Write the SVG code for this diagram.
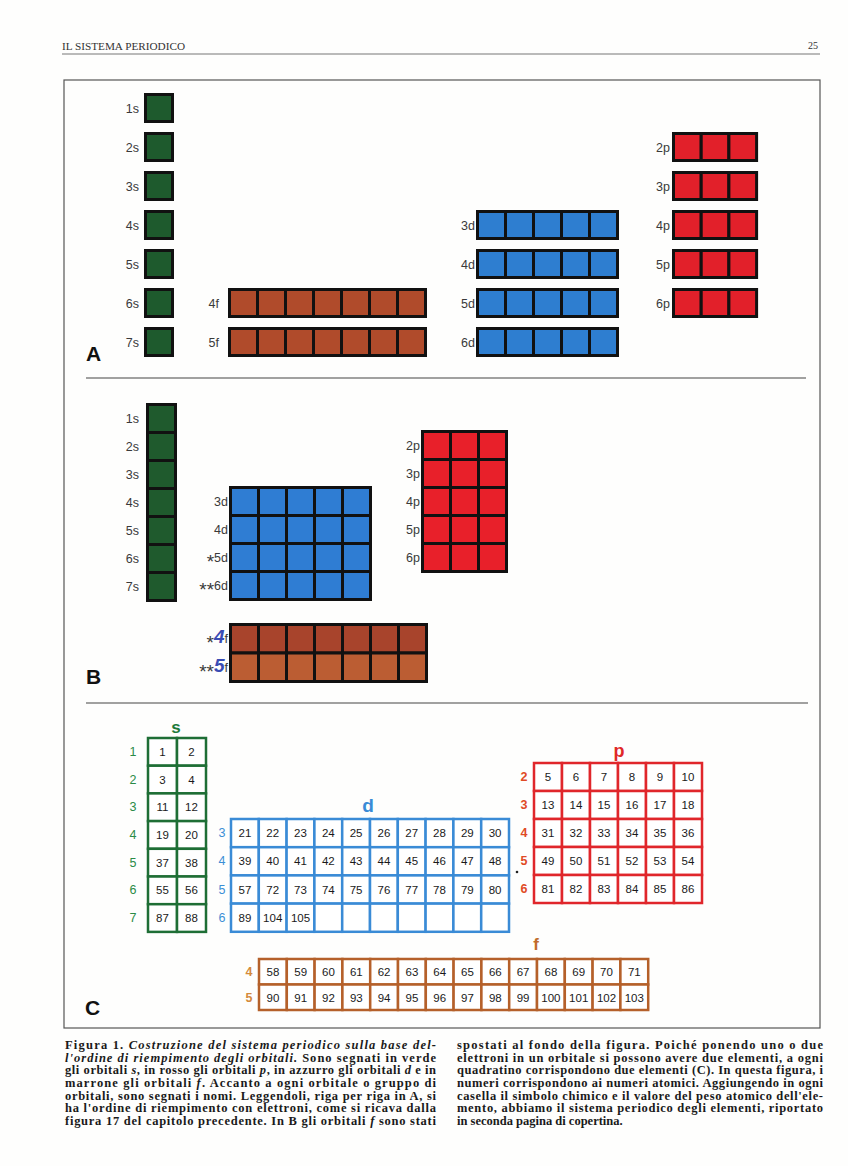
<svg xmlns="http://www.w3.org/2000/svg" xmlns:xlink="http://www.w3.org/1999/xlink" width="848" height="1166" viewBox="0 0 848 1166">
<style>
.lbl{font-family:"Liberation Sans",Arial,sans-serif;font-size:12.5px;fill:#3a3a3a;text-anchor:end}
.ast{font-size:19px}
.big{font-family:"Liberation Sans",Arial,sans-serif;font-size:21px;font-weight:900;fill:#111}
.num{font-family:"Liberation Sans",Arial,sans-serif;font-size:11.5px;fill:#1a1a1a;text-anchor:middle}
.rl{font-family:"Liberation Sans",Arial,sans-serif;font-size:12.5px;text-anchor:middle}
.hd{font-family:"Liberation Sans",Arial,sans-serif;font-weight:bold;text-anchor:middle}
.k{stroke:#111;stroke-width:3}
.cap{font-family:"Liberation Serif","Times New Roman",serif;font-size:12.5px;font-weight:bold;fill:#1a1a1a}
.it{font-style:italic}
.frame{fill:none;stroke:#555;stroke-width:1.2}
</style>
<defs>
<g id="a1"><rect x="0" y="0" width="27" height="27"/></g>
<g id="a7"><rect x="0" width="28" height="27"/><rect x="28" width="28" height="27"/><rect x="56" width="28" height="27"/><rect x="84" width="28" height="27"/><rect x="112" width="28" height="27"/><rect x="140" width="28" height="27"/><rect x="168" width="28" height="27"/></g>
<g id="a5"><rect x="0" width="28" height="27"/><rect x="28" width="28" height="27"/><rect x="56" width="28" height="27"/><rect x="84" width="28" height="27"/><rect x="112" width="28" height="27"/></g>
<g id="a3"><rect x="0" width="27.7" height="27"/><rect x="27.7" width="27.7" height="27"/><rect x="55.4" width="27.7" height="27"/></g>
<g id="b1"><rect x="0" width="28" height="28"/></g>
<g id="b3"><rect x="0" width="28" height="28"/><rect x="28" width="28" height="28"/><rect x="56" width="28" height="28"/></g>
<g id="b5"><rect x="0" width="28" height="28"/><rect x="28" width="28" height="28"/><rect x="56" width="28" height="28"/><rect x="84" width="28" height="28"/><rect x="112" width="28" height="28"/></g>
<g id="b7"><rect x="0" width="28" height="28.5"/><rect x="28" width="28" height="28.5"/><rect x="56" width="28" height="28.5"/><rect x="84" width="28" height="28.5"/><rect x="112" width="28" height="28.5"/><rect x="140" width="28" height="28.5"/><rect x="168" width="28" height="28.5"/></g>
<g id="c2"><rect x="0" width="29" height="27.7"/><rect x="29" width="29" height="27.7"/></g>
<g id="c10"><rect x="0" width="27.8" height="28.2"/><rect x="27.8" width="27.8" height="28.2"/><rect x="55.6" width="27.8" height="28.2"/><rect x="83.4" width="27.8" height="28.2"/><rect x="111.2" width="27.8" height="28.2"/><rect x="139" width="27.8" height="28.2"/><rect x="166.8" width="27.8" height="28.2"/><rect x="194.6" width="27.8" height="28.2"/><rect x="222.4" width="27.8" height="28.2"/><rect x="250.2" width="27.8" height="28.2"/></g>
<g id="c6"><rect x="0" width="28" height="28"/><rect x="28" width="28" height="28"/><rect x="56" width="28" height="28"/><rect x="84" width="28" height="28"/><rect x="112" width="28" height="28"/><rect x="140" width="28" height="28"/></g>
<g id="c14"><rect x="0" width="27.8" height="25.5"/><rect x="27.8" width="27.8" height="25.5"/><rect x="55.6" width="27.8" height="25.5"/><rect x="83.4" width="27.8" height="25.5"/><rect x="111.2" width="27.8" height="25.5"/><rect x="139" width="27.8" height="25.5"/><rect x="166.8" width="27.8" height="25.5"/><rect x="194.6" width="27.8" height="25.5"/><rect x="222.4" width="27.8" height="25.5"/><rect x="250.2" width="27.8" height="25.5"/><rect x="278" width="27.8" height="25.5"/><rect x="305.8" width="27.8" height="25.5"/><rect x="333.6" width="27.8" height="25.5"/><rect x="361.4" width="27.8" height="25.5"/></g>
</defs>
<rect x="0" y="0" width="848" height="1166" fill="#fefefd"/>

<g id="header">
<text x="62" y="50" font-family="Liberation Serif, serif" font-size="9.5" fill="#333" textLength="123" lengthAdjust="spacingAndGlyphs">IL SISTEMA PERIODICO</text>
<text x="818" y="49" font-family="Liberation Serif, serif" font-size="10" fill="#333" text-anchor="end">25</text>
<line x1="62" y1="54" x2="820" y2="54" stroke="#777" stroke-width="1"/>
</g>

<g id="frame">
<rect class="frame" x="64" y="80" width="756" height="948"/>
<line x1="86" y1="378" x2="806" y2="378" stroke="#444" stroke-width="1.2"/>
<line x1="86" y1="703" x2="808" y2="703" stroke="#444" stroke-width="1.2"/>
</g>

<!-- PANEL A -->
<g id="panelA">
<text class="big" x="86" y="361">A</text>
<g id="A-s" class="k" fill="#1e5a2d">
<use xlink:href="#a1" x="145.5" y="94.5"/><use xlink:href="#a1" x="145.5" y="133.5"/><use xlink:href="#a1" x="145.5" y="172.5"/><use xlink:href="#a1" x="145.5" y="211.5"/><use xlink:href="#a1" x="145.5" y="250.5"/><use xlink:href="#a1" x="145.5" y="289.5"/><use xlink:href="#a1" x="145.5" y="328.5"/>
</g>
<g class="lbl"><text x="139" y="113">1s</text><text x="139" y="152">2s</text><text x="139" y="191">3s</text><text x="139" y="230">4s</text><text x="139" y="269">5s</text><text x="139" y="308">6s</text><text x="139" y="347">7s</text></g>
<g id="A-f" class="k" fill="#b04b2b">
<use xlink:href="#a7" x="229.5" y="289.5"/><use xlink:href="#a7" x="229.5" y="328.5"/>
</g>
<g class="lbl"><text x="219" y="308">4f</text><text x="219" y="347">5f</text></g>
<g id="A-d" class="k" fill="#2e7ed0">
<use xlink:href="#a5" x="477.5" y="211.5"/><use xlink:href="#a5" x="477.5" y="250.5"/><use xlink:href="#a5" x="477.5" y="289.5"/><use xlink:href="#a5" x="477.5" y="328.5"/>
</g>
<g class="lbl"><text x="475" y="230">3d</text><text x="475" y="269">4d</text><text x="475" y="308">5d</text><text x="475" y="347">6d</text></g>
<g id="A-p" class="k" fill="#e2202a">
<use xlink:href="#a3" x="673.5" y="133.5"/><use xlink:href="#a3" x="673.5" y="172.5"/><use xlink:href="#a3" x="673.5" y="211.5"/><use xlink:href="#a3" x="673.5" y="250.5"/><use xlink:href="#a3" x="673.5" y="289.5"/>
</g>
<g class="lbl"><text x="670" y="152">2p</text><text x="670" y="191">3p</text><text x="670" y="230">4p</text><text x="670" y="269">5p</text><text x="670" y="308">6p</text></g>
</g>

<!-- PANEL B -->
<g id="panelB">
<text class="big" x="86" y="684">B</text>
<g id="B-s" class="k" fill="#1f5a2d">
<use xlink:href="#b1" x="147.5" y="404.5"/><use xlink:href="#b1" x="147.5" y="432.5"/><use xlink:href="#b1" x="147.5" y="460.5"/><use xlink:href="#b1" x="147.5" y="488.5"/><use xlink:href="#b1" x="147.5" y="516.5"/><use xlink:href="#b1" x="147.5" y="544.5"/><use xlink:href="#b1" x="147.5" y="572.5"/>
</g>
<g class="lbl"><text x="139" y="423">1s</text><text x="139" y="451">2s</text><text x="139" y="479">3s</text><text x="139" y="507">4s</text><text x="139" y="535">5s</text><text x="139" y="563">6s</text><text x="139" y="591">7s</text></g>
<g id="B-d" class="k" fill="#2f7dd3">
<use xlink:href="#b5" x="230.5" y="487.5"/><use xlink:href="#b5" x="230.5" y="515.5"/><use xlink:href="#b5" x="230.5" y="543.5"/><use xlink:href="#b5" x="230.5" y="571.5"/>
</g>
<g class="lbl"><text x="228" y="506">3d</text><text x="228" y="534">4d</text><text x="228" y="562"><tspan class="ast" dy="6">*</tspan><tspan dy="-6">5d</tspan></text><text x="228" y="590"><tspan class="ast" dy="6">**</tspan><tspan dy="-6">6d</tspan></text></g>
<g id="B-p" class="k" fill="#e8202a">
<use xlink:href="#b3" x="422.5" y="431.5"/><use xlink:href="#b3" x="422.5" y="459.5"/><use xlink:href="#b3" x="422.5" y="487.5"/><use xlink:href="#b3" x="422.5" y="515.5"/><use xlink:href="#b3" x="422.5" y="543.5"/>
</g>
<g class="lbl"><text x="420" y="450">2p</text><text x="420" y="478">3p</text><text x="420" y="506">4p</text><text x="420" y="534">5p</text><text x="420" y="562">6p</text></g>
<g id="B-f" class="k">
<use xlink:href="#b7" x="230.5" y="624.5" fill="#a8442c"/><use xlink:href="#b7" x="230.5" y="653" fill="#bb5d33"/>
</g>
<g class="lbl"><text x="228" y="643"><tspan class="ast" dy="6">*</tspan><tspan dy="-6" fill="#3a4cb4" font-style="italic" font-weight="bold" font-size="19">4</tspan>f</text><text x="228" y="672"><tspan class="ast" dy="6">**</tspan><tspan dy="-6" fill="#3a4cb4" font-style="italic" font-weight="bold" font-size="19">5</tspan>f</text></g>
</g>

<!-- PANEL C -->
<g id="panelC">
<text class="big" x="85" y="1015">C</text>

<g id="C-s">
<text class="hd" x="176" y="733" font-size="17" fill="#1d7a3a">s</text>
<g fill="#fff" stroke="#1e6e35" stroke-width="2.5">
<use xlink:href="#c2" x="148" y="738"/><use xlink:href="#c2" x="148" y="765.7"/><use xlink:href="#c2" x="148" y="793.4"/><use xlink:href="#c2" x="148" y="821.1"/><use xlink:href="#c2" x="148" y="848.8"/><use xlink:href="#c2" x="148" y="876.5"/><use xlink:href="#c2" x="148" y="904.2"/>
</g>
<g class="rl" fill="#2a8b46"><text x="133" y="756">1</text><text x="133" y="783.6">2</text><text x="133" y="811.3">3</text><text x="133" y="839">4</text><text x="133" y="866.7">5</text><text x="133" y="894.4">6</text><text x="133" y="922.1">7</text></g>
<g class="num">
<text x="162.5" y="756">1</text><text x="191.5" y="756">2</text>
<text x="162.5" y="783.6">3</text><text x="191.5" y="783.6">4</text>
<text x="162.5" y="811.3">11</text><text x="191.5" y="811.3">12</text>
<text x="162.5" y="839">19</text><text x="191.5" y="839">20</text>
<text x="162.5" y="866.7">37</text><text x="191.5" y="866.7">38</text>
<text x="162.5" y="894.4">55</text><text x="191.5" y="894.4">56</text>
<text x="162.5" y="922.1">87</text><text x="191.5" y="922.1">88</text>
</g>
</g>

<g id="C-d">
<text class="hd" x="368" y="812" font-size="19" fill="#3a8bd6">d</text>
<g fill="#fff" stroke="#3a8bd6" stroke-width="2.5">
<use xlink:href="#c10" x="231" y="819"/><use xlink:href="#c10" x="231" y="847.2"/><use xlink:href="#c10" x="231" y="875.4"/><use xlink:href="#c10" x="231" y="903.6"/>
</g>
<g class="rl" fill="#3b8fd6"><text x="222" y="837.1">3</text><text x="222" y="865.3">4</text><text x="222" y="893.5">5</text><text x="222" y="921.7">6</text></g>
<g class="num">
<text x="244.9" y="837.1">21</text><text x="272.7" y="837.1">22</text><text x="300.5" y="837.1">23</text><text x="328.3" y="837.1">24</text><text x="356.1" y="837.1">25</text><text x="383.9" y="837.1">26</text><text x="411.7" y="837.1">27</text><text x="439.5" y="837.1">28</text><text x="467.3" y="837.1">29</text><text x="495.1" y="837.1">30</text>
<text x="244.9" y="865.3">39</text><text x="272.7" y="865.3">40</text><text x="300.5" y="865.3">41</text><text x="328.3" y="865.3">42</text><text x="356.1" y="865.3">43</text><text x="383.9" y="865.3">44</text><text x="411.7" y="865.3">45</text><text x="439.5" y="865.3">46</text><text x="467.3" y="865.3">47</text><text x="495.1" y="865.3">48</text>
<text x="244.9" y="893.5">57</text><text x="272.7" y="893.5">72</text><text x="300.5" y="893.5">73</text><text x="328.3" y="893.5">74</text><text x="356.1" y="893.5">75</text><text x="383.9" y="893.5">76</text><text x="411.7" y="893.5">77</text><text x="439.5" y="893.5">78</text><text x="467.3" y="893.5">79</text><text x="495.1" y="893.5">80</text>
<text x="244.9" y="921.7">89</text><text x="272.7" y="921.7">104</text><text x="300.5" y="921.7">105</text>
</g>
</g>
<circle cx="517" cy="872" r="1.3" fill="#222"/>

<g id="C-p">
<text class="hd" x="619" y="757" font-size="18" fill="#e02828">p</text>
<g fill="#fff" stroke="#e0262b" stroke-width="2.5">
<use xlink:href="#c6" x="534" y="763"/><use xlink:href="#c6" x="534" y="791"/><use xlink:href="#c6" x="534" y="819"/><use xlink:href="#c6" x="534" y="847"/><use xlink:href="#c6" x="534" y="875"/>
</g>
<g class="rl" fill="#e04a25" font-weight="bold"><text x="524" y="781">2</text><text x="524" y="809">3</text><text x="524" y="837">4</text><text x="524" y="865">5</text><text x="524" y="893">6</text></g>
<g class="num">
<text x="548" y="781">5</text><text x="576" y="781">6</text><text x="604" y="781">7</text><text x="632" y="781">8</text><text x="660" y="781">9</text><text x="688" y="781">10</text>
<text x="548" y="809">13</text><text x="576" y="809">14</text><text x="604" y="809">15</text><text x="632" y="809">16</text><text x="660" y="809">17</text><text x="688" y="809">18</text>
<text x="548" y="837">31</text><text x="576" y="837">32</text><text x="604" y="837">33</text><text x="632" y="837">34</text><text x="660" y="837">35</text><text x="688" y="837">36</text>
<text x="548" y="865">49</text><text x="576" y="865">50</text><text x="604" y="865">51</text><text x="632" y="865">52</text><text x="660" y="865">53</text><text x="688" y="865">54</text>
<text x="548" y="893">81</text><text x="576" y="893">82</text><text x="604" y="893">83</text><text x="632" y="893">84</text><text x="660" y="893">85</text><text x="688" y="893">86</text>
</g>
</g>

<g id="C-f">
<text class="hd" x="536" y="950" font-size="17" fill="#c06a2a">f</text>
<g fill="#fff" stroke="#b5602a" stroke-width="2.5">
<use xlink:href="#c14" x="259" y="959"/><use xlink:href="#c14" x="259" y="984.5"/>
</g>
<g class="rl" fill="#d48a3c" font-weight="bold"><text x="249" y="976">4</text><text x="249" y="1001.5">5</text></g>
<g class="num">
<text x="272.9" y="976">58</text><text x="300.7" y="976">59</text><text x="328.5" y="976">60</text><text x="356.3" y="976">61</text><text x="384.1" y="976">62</text><text x="411.9" y="976">63</text><text x="439.7" y="976">64</text><text x="467.5" y="976">65</text><text x="495.3" y="976">66</text><text x="523.1" y="976">67</text><text x="550.9" y="976">68</text><text x="578.7" y="976">69</text><text x="606.5" y="976">70</text><text x="634.3" y="976">71</text>
<text x="272.9" y="1001.5">90</text><text x="300.7" y="1001.5">91</text><text x="328.5" y="1001.5">92</text><text x="356.3" y="1001.5">93</text><text x="384.1" y="1001.5">94</text><text x="411.9" y="1001.5">95</text><text x="439.7" y="1001.5">96</text><text x="467.5" y="1001.5">97</text><text x="495.3" y="1001.5">98</text><text x="523.1" y="1001.5">99</text><text x="550.9" y="1001.5">100</text><text x="578.7" y="1001.5">101</text><text x="606.5" y="1001.5">102</text><text x="634.3" y="1001.5">103</text>
</g>
</g>
</g>

<!-- CAPTION -->
<g id="caption" class="cap">
<text x="65" y="1049" textLength="371" lengthAdjust="spacing">Figura 1.  <tspan class="it">Costruzione del sistema periodico sulla base del-</tspan></text>
<text x="65" y="1061.6" textLength="371" lengthAdjust="spacing"><tspan class="it">l'ordine di riempimento degli orbitali.</tspan> Sono segnati in verde</text>
<text x="65" y="1074.3" textLength="371" lengthAdjust="spacing">gli orbitali <tspan class="it">s</tspan>, in rosso gli orbitali <tspan class="it">p</tspan>, in azzurro gli orbitali <tspan class="it">d</tspan> e in</text>
<text x="65" y="1087" textLength="371" lengthAdjust="spacing">marrone gli orbitali <tspan class="it">f</tspan>. Accanto a ogni orbitale o gruppo di</text>
<text x="65" y="1099.6" textLength="371" lengthAdjust="spacing">orbitali, sono segnati i nomi. Leggendoli, riga per riga in A, si</text>
<text x="65" y="1112.3" textLength="371" lengthAdjust="spacing">ha l'ordine di riempimento con elettroni, come si ricava dalla</text>
<text x="65" y="1124.9" textLength="371" lengthAdjust="spacing">figura 17 del capitolo precedente. In B gli orbitali <tspan class="it">f</tspan> sono stati</text>
<text x="457" y="1049" textLength="366" lengthAdjust="spacing">spostati al fondo della figura. Poiché ponendo uno o due</text>
<text x="457" y="1061.6" textLength="366" lengthAdjust="spacing">elettroni in un orbitale si possono avere due elementi, a ogni</text>
<text x="457" y="1074.3" textLength="366" lengthAdjust="spacing">quadratino corrispondono due elementi (C). In questa figura, i</text>
<text x="457" y="1087" textLength="366" lengthAdjust="spacing">numeri corrispondono ai numeri atomici. Aggiungendo in ogni</text>
<text x="457" y="1099.6" textLength="366" lengthAdjust="spacing">casella il simbolo chimico e il valore del peso atomico dell'ele-</text>
<text x="457" y="1112.3" textLength="366" lengthAdjust="spacing">mento, abbiamo il sistema periodico degli elementi, riportato</text>
<text x="457" y="1124.9">in seconda pagina di copertina.</text>
</g>
</svg>
